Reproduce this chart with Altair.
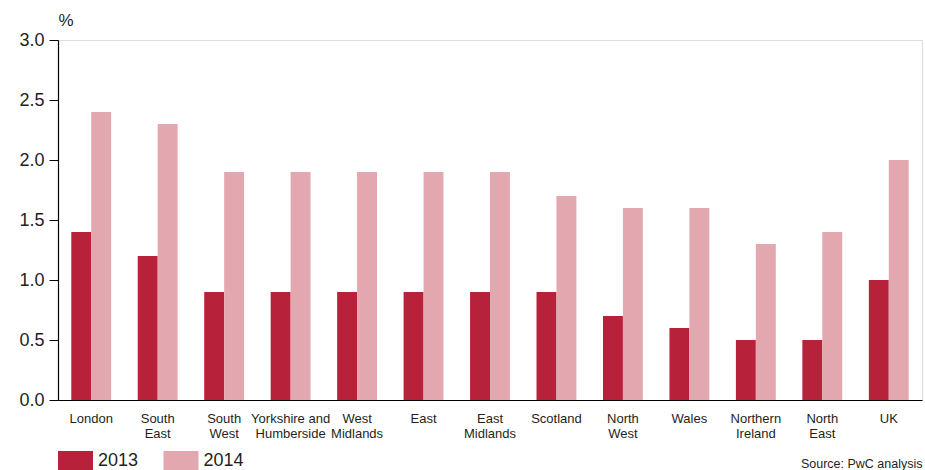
import altair as alt
import pandas as pd

# Regional growth rates, 2013 vs 2014
regions = [
    "London", "South East", "South West", "Yorkshire and Humberside",
    "West Midlands", "East", "East Midlands", "Scotland", "North West",
    "Wales", "Northern Ireland", "North East", "UK",
]
values_2013 = [1.4, 1.2, 0.9, 0.9, 0.9, 0.9, 0.9, 0.9, 0.7, 0.6, 0.5, 0.5, 1.0]
values_2014 = [2.4, 2.3, 1.9, 1.9, 1.9, 1.9, 1.9, 1.7, 1.6, 1.6, 1.3, 1.4, 2.0]
years = ["2013", "2014"]
colors = ["#B8213A", "#E3A8AF"]
y_ticks = [0.0, 0.5, 1.0, 1.5, 2.0, 2.5, 3.0]

rows = []
for r, a, b in zip(regions, values_2013, values_2014):
    rows.append({"region": r, "year": years[0], "value": a})
    rows.append({"region": r, "year": years[1], "value": b})
df = pd.DataFrame(rows)

FONT = "Liberation Sans"
TEXT = "#231f20"

# split multi-word labels at the last space onto two lines
label_expr = (
    "lastindexof(datum.label, ' ') < 0 ? datum.label : "
    "[slice(datum.label, 0, lastindexof(datum.label, ' ')), "
    "slice(datum.label, lastindexof(datum.label, ' ') + 1)]"
)

chart = (
    alt.Chart(df)
    .mark_bar()
    .encode(
        x=alt.X(
            "region:N",
            sort=regions,
            scale=alt.Scale(paddingInner=0.4, paddingOuter=0.2),
            axis=alt.Axis(
                title="Source: PwC analysis",
                titleX=864,
                titleY=67,
                titleAlign="right",
                titleBaseline="alphabetic",
                titleFont=FONT,
                titleFontSize=12.5,
                titleFontWeight="normal",
                titleColor=TEXT,
                labelAngle=0,
                labelExpr=label_expr,
                labelFont=FONT,
                labelFontSize=13,
                labelLineHeight=15,
                labelColor=TEXT,
                labelPadding=12,
                labelBaseline="top",
                ticks=False,
                domainColor="#000000",
                domainWidth=1.2,
            ),
        ),
        xOffset=alt.XOffset("year:N", scale=alt.Scale(paddingInner=0, paddingOuter=0)),
        y=alt.Y(
            "value:Q",
            scale=alt.Scale(domain=[0, 3], nice=False),
            axis=alt.Axis(
                title="%",
                titleAngle=0,
                titleX=0,
                titleY=-15,
                titleAlign="left",
                titleBaseline="alphabetic",
                titleFont=FONT,
                titleFontSize=17,
                titleFontWeight="normal",
                titleColor=TEXT,
                values=y_ticks,
                format=".1f",
                labelFont=FONT,
                labelFontSize=18,
                labelColor=TEXT,
                labelPadding=5,
                tickSize=9,
                tickColor="#000000",
                domainColor="#000000",
                domainWidth=1.2,
                grid=False,
            ),
        ),
        color=alt.Color(
            "year:N",
            scale=alt.Scale(domain=years, range=colors),
            legend=alt.Legend(
                title=None,
                orient="none",
                legendX=7.5,
                legendY=411,
                direction="horizontal",
                symbolType="M-1.75,-1H1.75V1H-1.75Z",
                symbolSize=400,
                symbolStrokeWidth=0,
                symbolOpacity=1,
                labelFont=FONT,
                labelFontSize=18,
                labelColor=TEXT,
                labelOffset=12.5,
                columnPadding=24.5,
                padding=0,
            ),
        ),
    )
    .properties(
        width=864,
        height=360,
        autosize=alt.AutoSizeParams(type="none"),
        padding={"left": 58, "top": 40, "right": 3, "bottom": 70},
    )
    .configure_view(stroke="#222222", strokeWidth=1.2)
    .configure(background="white")
)

chart.save("out.html", embed_options={"renderer": "svg", "actions": False})
